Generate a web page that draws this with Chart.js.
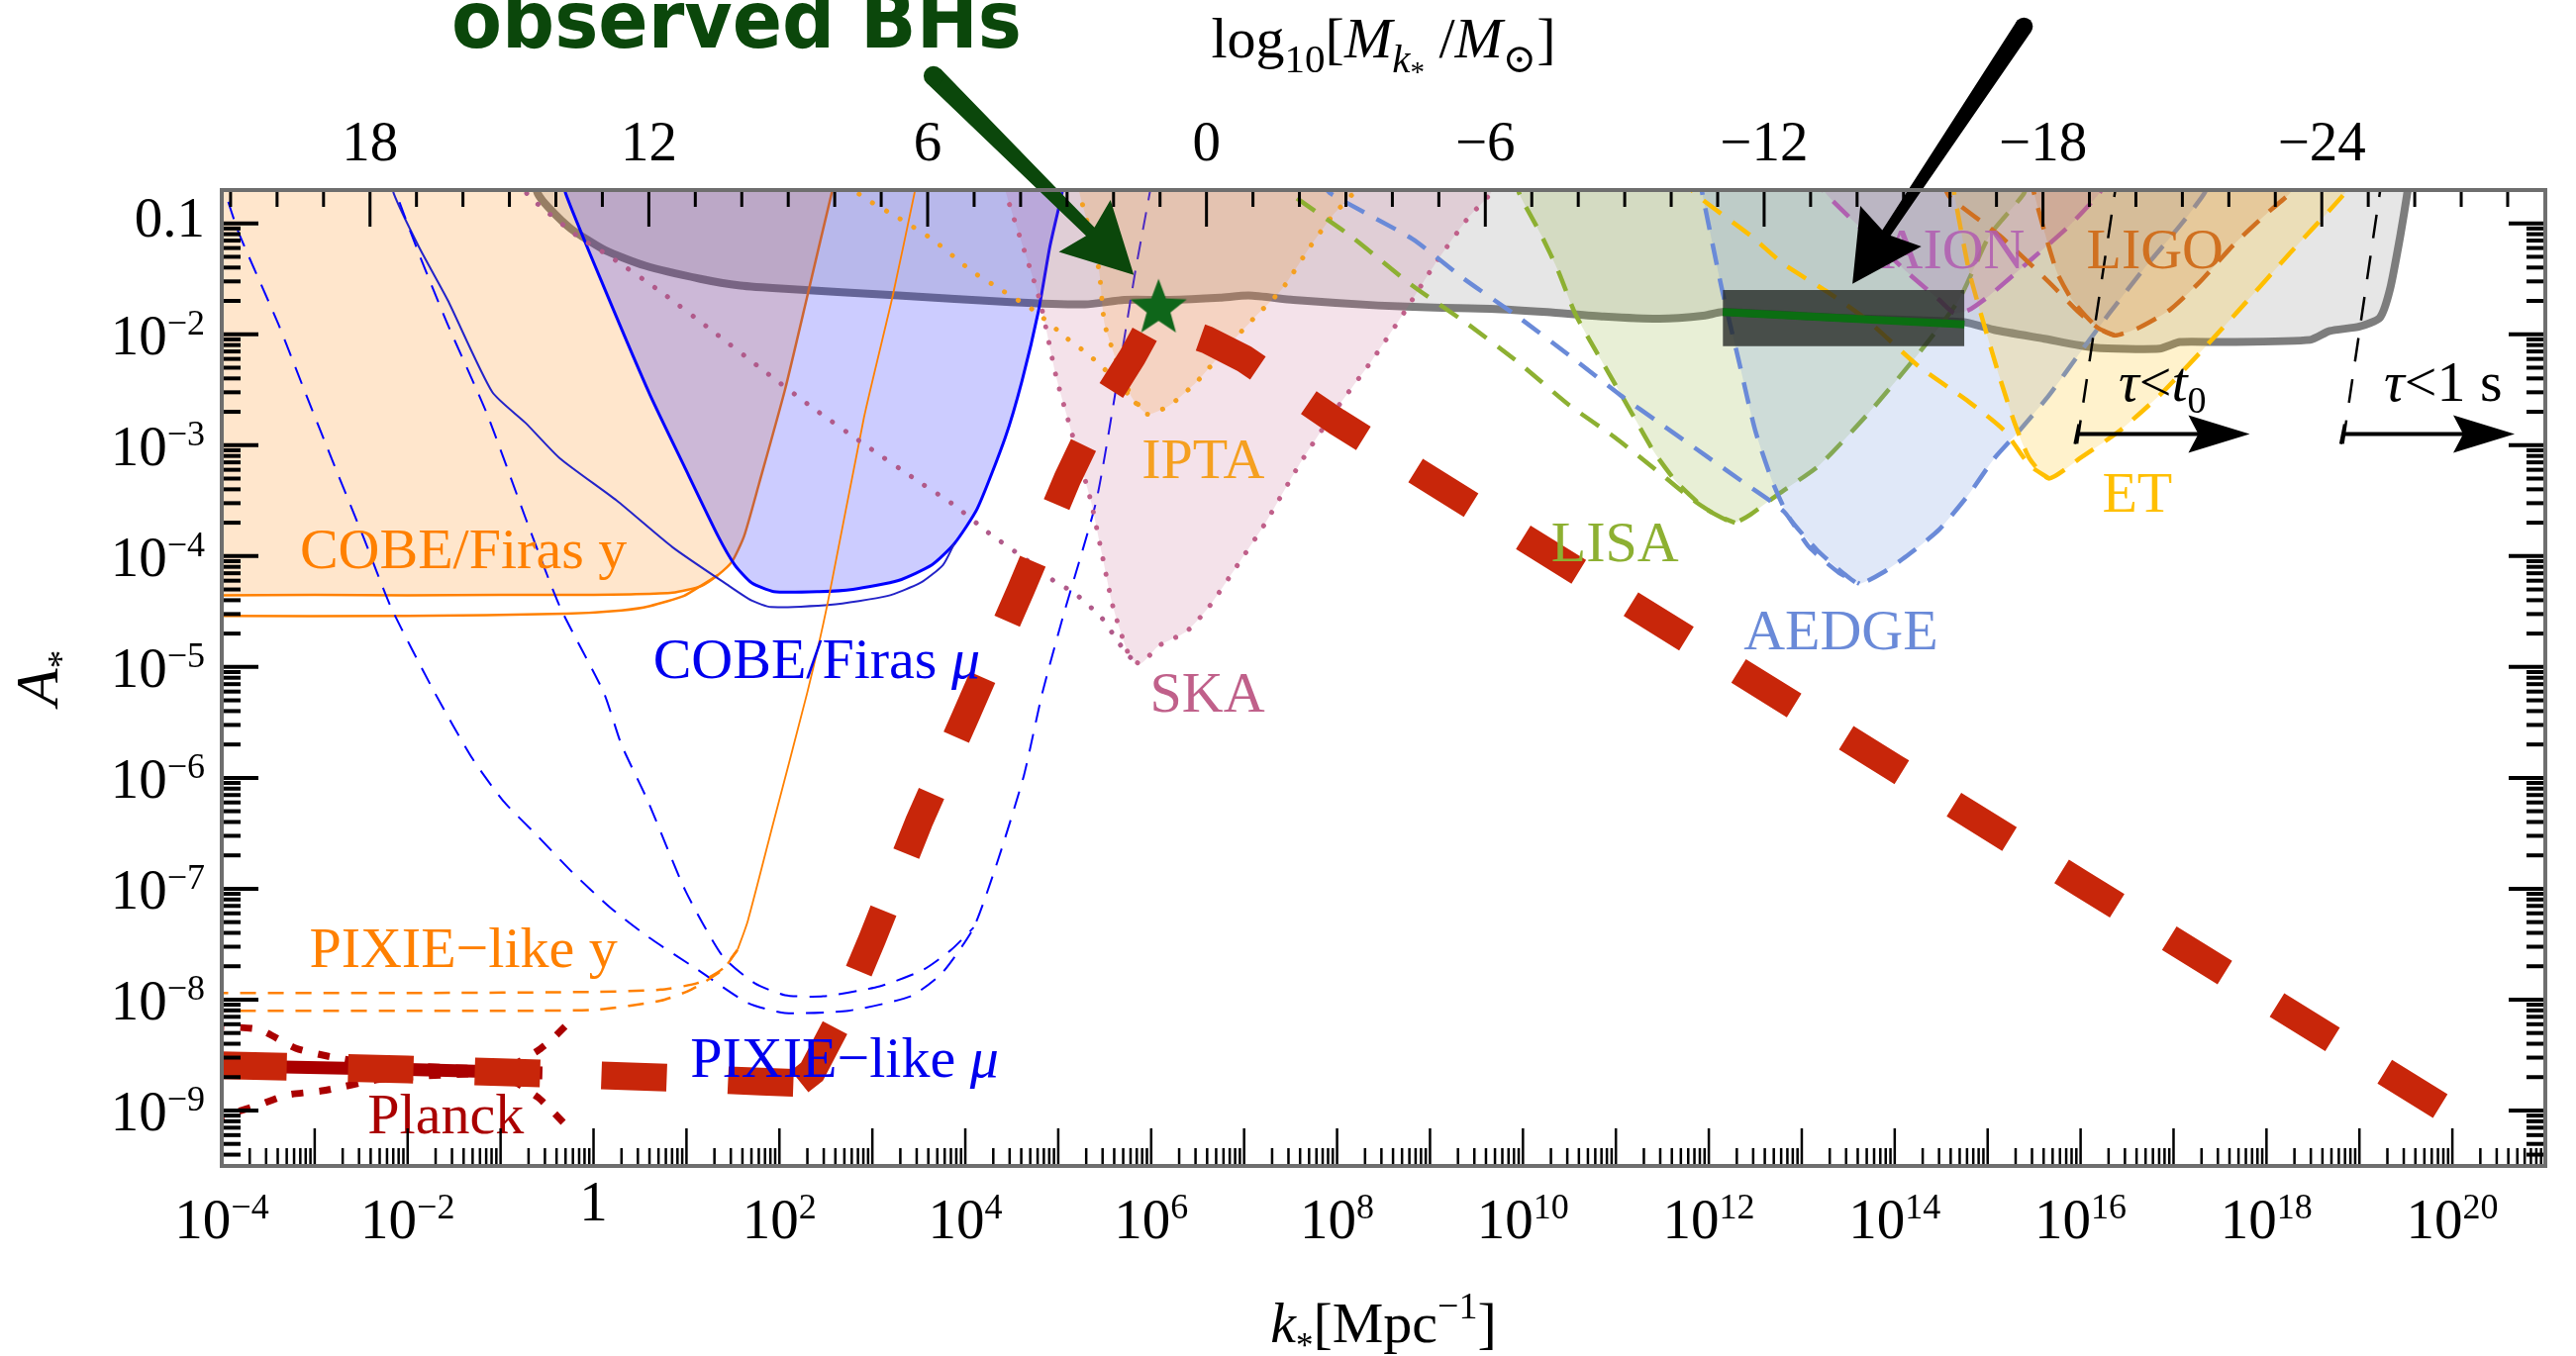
<!DOCTYPE html>
<html>
<head>
<meta charset="utf-8">
<title>Constraints on the peak amplitude A* of the curvature power spectrum</title>
<script src="https://cdn.jsdelivr.net/npm/chart.js@4.4.1/dist/chart.umd.min.js"></script>
<style>
  html, body { margin: 0; padding: 0; background: #fff; }
</style>
</head>
<body>
<canvas id="chart-astar" width="2602" height="1370"></canvas>
<script>
/* ── Curves, as [log10 k*, log10 A*] pairs ───────────────────────────────── */

const PBH = [[-0.66,-0.55],[-0.60,-0.73],[-0.48,-0.86],[-0.24,-1.05],[0.12,-1.24],[0.55,-1.38],[1.15,-1.50],[1.58,-1.56],[2.06,-1.59],[3.28,-1.65],[4.49,-1.71],[5.29,-1.73],[5.71,-1.69],[6.20,-1.69],[6.74,-1.67],[7.05,-1.65],[7.53,-1.69],[8.44,-1.74],[9.05,-1.76],[9.65,-1.77],[10.26,-1.80],[10.87,-1.84],[11.47,-1.86],[11.96,-1.83],[12.14,-1.80],[13.40,-1.85],[14.75,-1.89],[15.07,-1.96],[15.61,-2.04],[16.15,-2.12],[16.85,-2.13],[17.07,-2.07],[17.50,-2.07],[18.47,-2.05],[18.68,-1.97],[19.00,-1.93],[19.22,-1.85],[19.33,-1.59],[19.44,-1.11],[19.52,-0.70],[19.54,-0.55]];

const COBE_Y   = [[-4.1,-4.355],[-3,-4.35],[-2,-4.355],[-1,-4.35],[0,-4.35],[0.4,-4.345],[0.85,-4.33],[1.16,-4.27],[1.34,-4.17],[1.49,-4.05],[1.62,-3.82],[1.78,-3.35],[2.06,-2.50],[2.31,-1.62],[2.57,-0.70],[2.62,-0.55]];
const COBE_Y_2 = [[-4.1,-4.54],[-2,-4.54],[-0.3,-4.52],[0.3,-4.49],[0.61,-4.45],[0.97,-4.36],[1.15,-4.27],[1.34,-4.17]];
const COBE_MU   = [[-0.33,-0.55],[-0.30,-0.73],[0.12,-1.59],[0.61,-2.55],[0.97,-3.18],[1.34,-3.82],[1.52,-4.08],[1.70,-4.24],[1.94,-4.32],[2.43,-4.32],[2.79,-4.30],[3.28,-4.22],[3.64,-4.08],[3.88,-3.89],[4.13,-3.57],[4.43,-2.93],[4.61,-2.42],[4.79,-1.78],[4.91,-1.21],[5.04,-0.73],[5.07,-0.55]];
const COBE_MU_2 = [[-2.18,-0.55],[-2.15,-0.73],[-1.88,-1.21],[-1.57,-1.69],[-1.09,-2.52],[-0.73,-2.80],[-0.36,-3.12],[0.25,-3.50],[0.85,-3.92],[1.46,-4.27],[1.70,-4.40],[1.91,-4.46],[2.55,-4.44],[3.16,-4.36],[3.52,-4.24],[3.76,-4.08],[3.88,-3.89]];

const PIXIE_MU   = [[-4.02,-0.55],[-3.97,-0.70],[-3.82,-1.08],[-3.39,-1.91],[-3.09,-2.55],[-2.79,-3.18],[-2.48,-3.82],[-2.18,-4.46],[-1.71,-5.23],[-1.30,-5.83],[-0.97,-6.21],[-0.63,-6.50],[-0.23,-6.85],[0.18,-7.17],[0.58,-7.43],[1.12,-7.73],[1.66,-8.03],[2.06,-8.12],[2.74,-8.10],[3.41,-7.97],[3.75,-7.76],[4.09,-7.35],[4.36,-6.72],[4.63,-5.98],[4.83,-5.23],[5.05,-4.55],[5.41,-3.50],[5.62,-2.50],[5.83,-1.43],[5.99,-0.70],[6.02,-0.55]];
const PIXIE_MU_2 = [[-2.16,-0.55],[-2.12,-0.73],[-1.88,-1.27],[-1.57,-1.91],[-1.15,-2.71],[-0.73,-3.66],[-0.36,-4.46],[0.11,-5.23],[0.30,-5.70],[0.58,-6.20],[0.99,-7.02],[1.39,-7.61],[1.73,-7.85],[2.06,-7.96],[2.47,-7.97],[3.08,-7.88],[3.55,-7.73],[3.85,-7.55],[4.09,-7.35]];
const PIXIE_Y      = [[-4.1,-7.94],[-2,-7.94],[0.04,-7.93],[0.72,-7.91],[1.12,-7.85],[1.39,-7.72],[1.55,-7.55]];
const PIXIE_Y_2    = [[-4.1,-8.10],[-0.63,-8.10],[0.04,-8.09],[0.72,-8.01],[1.05,-7.91],[1.39,-7.73],[1.55,-7.55]];
const PIXIE_Y_RISE = [[1.55,-7.55],[1.66,-7.29],[1.93,-6.42],[2.30,-5.23],[2.52,-4.42],[2.91,-2.75],[3.22,-1.65],[3.46,-0.70],[3.50,-0.55]];

const SKA   = [[4.41,-0.55],[4.44,-0.73],[4.80,-1.69],[4.98,-2.39],[5.17,-2.96],[5.35,-3.50],[5.47,-3.98],[5.59,-4.46],[5.77,-4.91],[5.89,-4.97],[6.08,-4.81],[6.38,-4.68],[6.62,-4.46],[6.93,-4.08],[7.23,-3.70],[7.59,-3.18],[7.96,-2.71],[8.38,-2.23],[8.74,-1.78],[9.05,-1.37],[9.41,-0.95],[9.65,-0.73],[9.72,-0.55]];
const SKA_2 = [[-0.80,-0.60],[-0.70,-0.75],[-0.18,-1.11],[0.18,-1.30],[0.73,-1.62],[1.28,-1.97],[1.82,-2.32],[2.37,-2.67],[2.91,-2.99],[3.52,-3.34],[3.88,-3.54],[4.25,-3.79],[4.62,-4.01],[4.98,-4.24],[5.17,-4.33],[5.47,-4.56],[5.65,-4.78],[5.77,-4.91],[5.89,-4.97]];
const IPTA   = [[5.20,-0.55],[5.23,-0.73],[5.35,-1.10],[5.44,-1.43],[5.50,-1.91],[5.65,-2.29],[5.80,-2.58],[5.96,-2.72],[6.20,-2.64],[6.50,-2.42],[6.80,-2.13],[7.11,-1.85],[7.41,-1.59],[7.71,-1.21],[7.96,-0.92],[8.17,-0.73],[8.25,-0.55]];
const IPTA_2 = [[2.82,-0.60],[2.85,-0.73],[3.28,-0.95],[3.64,-1.14],[4.07,-1.43],[4.37,-1.59],[4.73,-1.78],[5.10,-2.04],[5.29,-2.16],[5.47,-2.29],[5.65,-2.45],[5.80,-2.58],[5.96,-2.72]];

const LISA    = [[9.92,-0.55],[9.96,-0.73],[10.20,-1.11],[10.38,-1.43],[10.56,-1.81],[10.75,-2.10],[10.93,-2.36],[11.17,-2.71],[11.41,-3.06],[11.66,-3.34],[11.96,-3.57],[12.20,-3.68],[12.28,-3.70],[12.44,-3.63],[12.75,-3.44],[13.19,-3.18],[13.72,-2.71],[14.26,-2.17],[14.69,-1.69],[15.02,-1.11],[15.39,-0.73],[15.45,-0.55]];
const LISA_2  = [[7.30,-0.55],[7.45,-0.70],[8.14,-1.11],[8.81,-1.56],[9.41,-1.91],[9.96,-2.26],[10.50,-2.64],[10.99,-2.93],[11.47,-3.25],[11.84,-3.50],[12.08,-3.63],[12.28,-3.70]];
const AEDGE   = [[11.89,-0.55],[11.93,-0.73],[12.14,-1.59],[12.32,-2.23],[12.50,-2.87],[12.69,-3.34],[12.87,-3.66],[13.17,-3.95],[13.47,-4.17],[13.62,-4.25],[13.89,-4.14],[14.16,-3.98],[14.48,-3.76],[14.80,-3.44],[15.07,-3.12],[15.34,-2.87],[15.66,-2.55],[15.99,-2.17],[16.31,-1.81],[16.69,-1.40],[17.07,-1.02],[17.33,-0.73],[17.42,-0.55]];
const AEDGE_2 = [[7.80,-0.60],[7.93,-0.73],[8.81,-1.14],[9.35,-1.49],[9.96,-1.85],[10.56,-2.23],[11.05,-2.55],[11.47,-2.80],[11.96,-3.09],[12.38,-3.34],[12.81,-3.60],[13.08,-3.92],[13.40,-4.15],[13.62,-4.25]];
const ET      = [[14.61,-0.55],[14.64,-0.73],[14.80,-1.43],[14.96,-1.91],[15.13,-2.39],[15.29,-2.80],[15.45,-3.12],[15.66,-3.30],[15.99,-3.12],[16.42,-2.87],[16.85,-2.55],[17.28,-2.17],[17.77,-1.72],[18.25,-1.27],[18.84,-0.73],[18.97,-0.55]];
const ET_2    = [[11.70,-0.55],[11.85,-0.73],[12.45,-1.11],[12.81,-1.37],[13.28,-1.62],[13.70,-1.87],[14.26,-2.29],[14.80,-2.61],[15.18,-2.87],[15.45,-3.18],[15.66,-3.30]];
const AION    = [[13.10,-0.55],[13.29,-0.76],[13.72,-1.11],[14.16,-1.46],[14.48,-1.69],[14.64,-1.81],[14.80,-1.78],[15.02,-1.65],[15.45,-1.34],[15.88,-1.02],[16.20,-0.73],[16.32,-0.55]];
const LIGO    = [[15.45,-0.55],[15.50,-0.73],[15.62,-1.10],[15.75,-1.45],[15.90,-1.68],[16.05,-1.83],[16.20,-1.95],[16.37,-2.01],[16.63,-1.94],[16.96,-1.78],[17.28,-1.53],[17.66,-1.18],[18.03,-0.89],[18.25,-0.73],[18.38,-0.55]];
const LIGO_2  = [[14.50,-0.60],[14.59,-0.76],[15.13,-1.11],[15.66,-1.53],[15.99,-1.81],[16.20,-1.95],[16.37,-2.01]];

const TAU_T0 = [[16.40,-0.55],[15.96,-3.00]];
const TAU_1S = [[19.25,-0.55],[18.82,-3.00]];

const PLANCK    = [[-4.1,-8.595],[-2,-8.63],[-0.55,-8.66]];
const PLANCK_UP = [[-4.1,-8.24],[-3.6,-8.27],[-3.2,-8.44],[-2.8,-8.52],[-2.3,-8.58],[-1.3,-8.62],[-0.9,-8.60],[-0.6,-8.46],[-0.45,-8.36],[-0.28,-8.22]];
const PLANCK_LO = [[-4.1,-9.08],[-3.6,-8.95],[-3.3,-8.86],[-2.9,-8.82],[-2.3,-8.72],[-1.3,-8.67],[-0.9,-8.72],[-0.6,-8.88],[-0.45,-9.00],[-0.30,-9.13]];

// model spectrum in three pieces, each listed from the end where its dash pattern starts
const MODEL_FALL = [[19.87,-8.96],[18.0,-7.99],[16.0,-6.95],[14.0,-5.91],[12.0,-4.87],[10.0,-3.83],[8.0,-2.79],[7.0,-2.22],[6.6,-2.05],[6.3,-1.96]];
const MODEL_RISE = [[5.93,-2.00],[5.8,-2.20],[5.5,-2.60],[5.1,-3.30],[4.6,-4.30],[4.0,-5.45],[3.5,-6.40],[3.0,-7.45],[2.6,-8.25],[2.35,-8.65],[2.2,-8.75]];
const MODEL_FLAT = [[2.15,-8.75],[1.8,-8.74],[1,-8.71],[0,-8.68],[-1,-8.655],[-2,-8.63],[-3,-8.61],[-4.1,-8.59]];

const BOX_TOP    = [[12.15,-1.600],[14.75,-1.600]];
const BOX_BOTTOM = [[12.15,-2.107],[14.75,-2.107]];
const BOX_LINE   = [[12.15,-1.80],[14.75,-1.91]];
const STAR       = [[6.08,-1.74]];

// annotation arrows: [tail, tip]
const GREEN_ARROW = [[3.658,0.330],[5.813,-1.464]];
const BLACK_ARROW = [[15.39,0.777],[13.545,-1.545]];
// horizontal "tau" arrows: [from log k, to log k, at log A]
const TAU_ARROWS = [[15.96,17.82,-2.90],[18.82,20.67,-2.90]];

// tick labels
const K_LABEL_EXPS = [-4,-2,0,2,4,6,8,10,12,14,16,18,20];
const A_LABEL_EXPS = [-1,-2,-3,-4,-5,-6,-7,-8,-9];
const M_LABELS = [18,12,6,0,-6,-12,-18,-24];
const M_OFFSET = 13.19;   // log10 M = M_OFFSET - 2 log10 k

/* ── helpers ───────────────────────────────────────────────────────────── */

const SERIF = '"Liberation Serif", "DejaVu Serif", serif';
const MINUS = '\u2212';
const toPts = arr => arr.map(([k, a]) => ({ x: 10 ** k, y: 10 ** a }));

function curve(pts, color, width, more) {
  return Object.assign({
    data: toPts(pts),
    borderColor: color,
    borderWidth: width,
    pointRadius: 0,
    fill: false,
    tension: 0.2,
    borderCapStyle: 'butt'
  }, more || {});
}
const dots = { borderDash: [0.1, 16], borderCapStyle: 'round' };

function starImage(r, color) {
  const c = document.createElement('canvas');
  c.width = c.height = 2 * r + 4;
  const g = c.getContext('2d');
  g.beginPath();
  for (let i = 0; i < 10; i++) {
    const rr = i % 2 ? r * 0.42 : r;
    const ang = -Math.PI / 2 + i * Math.PI / 5;
    g.lineTo(r + 2 + rr * Math.cos(ang), r + 2 + rr * Math.sin(ang) + r * 0.1);
  }
  g.closePath();
  g.fillStyle = color;
  g.fill();
  return c;
}

// draws a run of text pieces (italic / sub / superscript)
function rich(ctx, parts, x, y, size, align) {
  const fonts = parts.map(p => (p.i ? 'italic ' : '') + Math.round(size * (p.s || 1)) + 'px ' + SERIF);
  const widths = parts.map((p, j) => { ctx.font = fonts[j]; return ctx.measureText(p.t).width; });
  const total = widths.reduce((a, b) => a + b, 0);
  let cx = align === 'center' ? x - total / 2 : align === 'right' ? x - total : x;
  ctx.textAlign = 'left';
  ctx.textBaseline = 'alphabetic';
  parts.forEach((p, j) => {
    ctx.font = fonts[j];
    ctx.fillText(p.t, cx, y + (p.dy || 0) * size);
    cx += widths[j];
  });
}
const pow10 = e => [{ t: '10' }, { t: (e < 0 ? MINUS : '') + Math.abs(e), s: 0.63, dy: -0.35 }];

function fatArrow(ctx, x0, y0, x1, y1, w0, w1, headLen, headHalf) {
  const L = Math.hypot(x1 - x0, y1 - y0);
  const ux = (x1 - x0) / L, uy = (y1 - y0) / L, nx = -uy, ny = ux;
  const bx = x1 - ux * headLen, by = y1 - uy * headLen;
  ctx.beginPath();
  ctx.moveTo(x0 + nx * w0 / 2, y0 + ny * w0 / 2);
  ctx.lineTo(bx + nx * w1 / 2, by + ny * w1 / 2);
  ctx.lineTo(bx - ux * 8 + nx * headHalf, by - uy * 8 + ny * headHalf);
  ctx.lineTo(x1, y1);
  ctx.lineTo(bx - ux * 8 - nx * headHalf, by - uy * 8 - ny * headHalf);
  ctx.lineTo(bx - nx * w1 / 2, by - ny * w1 / 2);
  ctx.lineTo(x0 - nx * w0 / 2, y0 - ny * w0 / 2);
  ctx.closePath();
  ctx.fill();
  ctx.beginPath();
  ctx.arc(x0, y0, w0 / 2, 0, Math.PI * 2);
  ctx.fill();
}

const REGION_LABELS = [
  { parts: [{ t: 'COBE/Firas y' }], at: [-1.40, -4.107], color: '#ff8000' },
  { parts: [{ t: 'COBE/Firas ' }, { t: 'μ', i: 1 }], at: [2.40, -5.10], color: '#0000ee' },
  { parts: [{ t: 'PIXIE' + MINUS + 'like y' }], at: [-1.40, -7.705], color: '#ff8000' },
  { parts: [{ t: 'PIXIE' + MINUS + 'like ' }, { t: 'μ', i: 1 }], at: [2.70, -8.70], color: '#0000ee' },
  { parts: [{ t: 'Planck' }], at: [-1.59, -9.205], color: '#aa0000' },
  { parts: [{ t: 'SKA' }], at: [6.605, -5.40], color: '#c0608a' },
  { parts: [{ t: 'IPTA' }], at: [6.56, -3.295], color: '#f5a020' },
  { parts: [{ t: 'LISA' }], at: [10.99, -4.045], color: '#8db032' },
  { parts: [{ t: 'AEDGE' }], at: [13.42, -4.84], color: '#6a8ad8' },
  { parts: [{ t: 'ET' }], at: [16.61, -3.60], color: '#ffbf00' },
  { parts: [{ t: 'AION' }], at: [14.63, -1.40], color: 'rgba(176,90,176,0.85)' },
  { parts: [{ t: 'LIGO' }], at: [16.80, -1.40], color: '#d07020' },
  { parts: [{ t: 'τ', i: 1 }, { t: '<' }, { t: 't', i: 1 }, { t: '0', s: 0.65, dy: 0.2 }], at: [16.88, -2.60], color: '#000' },
  { parts: [{ t: 'τ', i: 1 }, { t: '<1 s' }], at: [19.90, -2.60], color: '#000' }
];

/* ── plugin: labels, arrows, frame and inward ticks ────────────────────── */

const decorations = {
  id: 'decorations',
  afterDatasetsDraw(chart) {
    const { ctx } = chart;
    const X = lk => chart.scales.x.getPixelForValue(10 ** lk);
    const Y = la => chart.scales.y.getPixelForValue(10 ** la);
    ctx.save();

    REGION_LABELS.forEach(l => {
      ctx.fillStyle = l.color;
      rich(ctx, l.parts, X(l.at[0]), Y(l.at[1]), 58, 'center');
    });

    // lifetime arrows
    ctx.fillStyle = '#000';
    ctx.strokeStyle = '#000';
    TAU_ARROWS.forEach(([k0, k1, a]) => {
      const x0 = X(k0), x1 = X(k1), y = Y(a);
      ctx.lineWidth = 4;
      ctx.beginPath(); ctx.moveTo(x0, y); ctx.lineTo(x1 - 40, y); ctx.stroke();
      ctx.lineWidth = 3;
      ctx.beginPath(); ctx.moveTo(x0 + 2, y - 10); ctx.lineTo(x0 - 2, y + 10); ctx.stroke();
      ctx.beginPath();
      ctx.moveTo(x1, y); ctx.lineTo(x1 - 62, y - 19); ctx.lineTo(x1 - 52, y); ctx.lineTo(x1 - 62, y + 19);
      ctx.closePath(); ctx.fill();
    });

    // "observed BHs" pointer and the black pointer
    ctx.fillStyle = '#0b470b';
    fatArrow(ctx, X(GREEN_ARROW[0][0]), Y(GREEN_ARROW[0][1]), X(GREEN_ARROW[1][0]), Y(GREEN_ARROW[1][1]), 20, 12, 62, 37);
    ctx.fillStyle = '#000';
    fatArrow(ctx, X(BLACK_ARROW[0][0]), Y(BLACK_ARROW[0][1]), X(BLACK_ARROW[1][0]), Y(BLACK_ARROW[1][1]), 18, 10, 62, 37);

    ctx.font = 'bold 80px "DejaVu Sans", sans-serif';
    const w = ctx.measureText('observed BHs').width;
    ctx.translate(456, 48);
    ctx.scale(576 / w, 1);
    ctx.fillStyle = '#0b470b';
    ctx.textAlign = 'left';
    ctx.fillText('observed BHs', 0, 0);
    ctx.restore();
  },

  afterDraw(chart) {
    const { ctx, chartArea: a, scales: { x, y } } = chart;
    const tick = (x0, y0, x1, y1) => { ctx.beginPath(); ctx.moveTo(x0, y0); ctx.lineTo(x1, y1); ctx.stroke(); };
    ctx.save();
    ctx.strokeStyle = '#000';

    // bottom: k ticks
    ctx.lineWidth = 2.5;
    for (let d = -4; d <= 20; d++) {
      for (let m = 1; m <= 9; m++) {
        const X = x.getPixelForValue(m * 10 ** d);
        tick(X, a.bottom, X, a.bottom - (m === 1 ? 38 : 18));
      }
    }
    // top: log10 M ticks
    ctx.lineWidth = 3;
    for (let M = -28; M <= 21; M++) {
      const X = x.getPixelForValue(10 ** ((M_OFFSET - M) / 2));
      tick(X, a.top, X, a.top + (M % 6 === 0 ? 37 : 17));
    }
    // left and right: A ticks
    ctx.lineWidth = 4;
    for (let d = -10; d <= -1; d++) {
      for (let m = 1; m <= 9; m++) {
        const v = m * 10 ** d;
        if (v < y.min || v > y.max) continue;
        const Y = y.getPixelForValue(v);
        const len = m === 1 ? 37 : 19;
        tick(a.left, Y, a.left + len, Y);
        tick(a.right, Y, a.right - len, Y);
      }
    }

    ctx.strokeStyle = '#6e6e6e';
    ctx.lineWidth = 4;
    ctx.strokeRect(a.left, a.top, a.right - a.left, a.bottom - a.top);

    // tick labels
    ctx.fillStyle = '#000';
    K_LABEL_EXPS.forEach(e => {
      const X = x.getPixelForValue(10 ** e);
      if (e === 0) rich(ctx, [{ t: '1' }], X, 1233, 57, 'center');
      else rich(ctx, pow10(e), X, 1251, 57, 'center');
    });
    A_LABEL_EXPS.forEach(e => {
      const Y = y.getPixelForValue(10 ** e);
      if (e === -1) rich(ctx, [{ t: '0.1' }], 207, Y + 13, 57, 'right');
      else rich(ctx, pow10(e), 207, Y + 20, 57, 'right');
    });
    M_LABELS.forEach(M => {
      const X = x.getPixelForValue(10 ** ((M_OFFSET - M) / 2));
      rich(ctx, [{ t: (M < 0 ? MINUS : '') + Math.abs(M) }], X, 162, 57, 'center');
    });

    // axis titles
    const cx = (a.left + a.right) / 2;
    rich(ctx, [{ t: 'log' }, { t: '10', s: 0.7, dy: 0.25 }, { t: '[' }, { t: 'M', i: 1 }, { t: 'k', i: 1, s: 0.7, dy: 0.25 },
      { t: '*', s: 0.5, dy: 0.42 }, { t: ' /' }, { t: 'M', i: 1 }, { t: '\u2299', s: 0.7, dy: 0.25 }, { t: ']' }], cx, 58, 58, 'center');
    rich(ctx, [{ t: 'k', i: 1 }, { t: '*', s: 0.6, dy: 0.25 }, { t: '[Mpc' }, { t: MINUS + '1', s: 0.65, dy: -0.42 }, { t: ']' }], cx, 1356, 58, 'center');
    ctx.translate(58, (a.top + a.bottom) / 2);
    ctx.rotate(-Math.PI / 2);
    rich(ctx, [{ t: 'A', i: 1 }, { t: '*', s: 0.6, dy: 0.25 }], 0, 0, 62, 'center');
    ctx.restore();
  }
};

/* ── datasets, bottom layer first ──────────────────────────────────────── */

const modelStyle = { borderDash: [66, 62], tension: 0 };

const layers = [
  curve(PBH, '#7d7d7d', 8, { fill: 'end', backgroundColor: 'rgba(128,128,128,0.2)' }),
  curve(COBE_Y, '#ff8000', 2.5, { fill: 'end', backgroundColor: 'rgba(255,128,0,0.2)' }),
  curve(COBE_Y_2, '#ff8000', 2.5),
  curve(COBE_MU, '#0000ff', 3, { fill: 'end', backgroundColor: 'rgba(0,0,255,0.2)' }),
  curve(COBE_MU_2, '#2323c8', 2),
  curve(PIXIE_MU, '#0000ff', 2, { borderDash: [18, 12] }),
  curve(PIXIE_MU_2, '#0000ff', 2, { borderDash: [18, 12] }),
  curve(PIXIE_Y, '#ff8000', 2.5, { borderDash: [16, 12] }),
  curve(PIXIE_Y_2, '#ff8000', 2.5, { borderDash: [16, 12] }),
  curve(PIXIE_Y_RISE, '#ff8000', 1.8),
  curve(SKA, '#c0608a', 5, Object.assign({ fill: 'end', backgroundColor: 'rgba(192,96,138,0.18)' }, dots)),
  curve(SKA_2, '#b05a8a', 5, dots),
  curve(IPTA, '#f5a020', 5, Object.assign({ fill: 'end', backgroundColor: 'rgba(245,150,30,0.2)' }, dots)),
  curve(IPTA_2, '#f5a020', 5, dots),
  curve(LISA, '#8db032', 4.5, { fill: 'end', backgroundColor: 'rgba(141,176,50,0.2)', borderDash: [22, 14] }),
  curve(LISA_2, '#8db032', 4.5, { borderDash: [22, 14] }),
  curve(AEDGE, '#6a8ad8', 4.5, { fill: 'end', backgroundColor: 'rgba(100,140,220,0.2)', borderDash: [22, 14] }),
  curve(AEDGE_2, '#6a8ad8', 4.5, { borderDash: [22, 14] }),
  curve(ET, '#ffbf00', 4.5, { fill: 'end', backgroundColor: 'rgba(255,190,0,0.2)', borderDash: [22, 14] }),
  curve(ET_2, '#ffbf00', 4.5, { borderDash: [22, 14] }),
  curve(AION, '#b060b0', 4.5, { fill: 'end', backgroundColor: 'rgba(176,96,176,0.2)', borderDash: [22, 14] }),
  curve(LIGO, '#d07020', 4.5, { fill: 'end', backgroundColor: 'rgba(210,115,35,0.2)', borderDash: [22, 14] }),
  curve(LIGO_2, '#d07020', 4.5, { borderDash: [22, 14] }),
  curve(TAU_T0, '#000', 2.5, { borderDash: [24, 18], tension: 0 }),
  curve(TAU_1S, '#000', 2.5, { borderDash: [24, 18], tension: 0 }),
  curve(BOX_TOP, 'rgba(0,0,0,0)', 0, { fill: '+1', backgroundColor: 'rgba(35,38,35,0.78)', tension: 0 }),
  curve(BOX_BOTTOM, 'rgba(0,0,0,0)', 0, { tension: 0 }),
  curve(BOX_LINE, '#0b6e12', 8, { tension: 0 }),
  curve(PLANCK_UP, '#aa0000', 7, { borderDash: [12, 16] }),
  curve(PLANCK_LO, '#aa0000', 7, { borderDash: [12, 16] }),
  curve(PLANCK, '#aa0000', 13, { tension: 0 }),
  curve(MODEL_FLAT, '#c8260a', 28, modelStyle),
  curve(MODEL_RISE, '#c8260a', 28, modelStyle),
  curve(MODEL_FALL, '#c8260a', 28, modelStyle),
  { data: toPts(STAR), showLine: false, pointStyle: starImage(30, '#0f661a'), pointRadius: 30 }
];
// higher order is drawn first, so the first layer ends up at the bottom
layers.forEach((ds, i) => { ds.order = layers.length - i; });

new Chart(document.getElementById('chart-astar'), {
  type: 'line',
  data: { datasets: layers },
  options: {
    responsive: false,
    animation: false,
    events: [],
    layout: { padding: { left: 224, right: 11, top: 192, bottom: 192 } },
    plugins: { legend: { display: false }, tooltip: { enabled: false } },
    scales: {
      x: { type: 'logarithmic', min: 1e-4, max: 1e21, bounds: 'data', display: false },
      y: { type: 'logarithmic', min: 10 ** -9.5, max: 10 ** -0.699, bounds: 'data', display: false }
    }
  },
  plugins: [decorations]
});
</script>
</body>
</html>
